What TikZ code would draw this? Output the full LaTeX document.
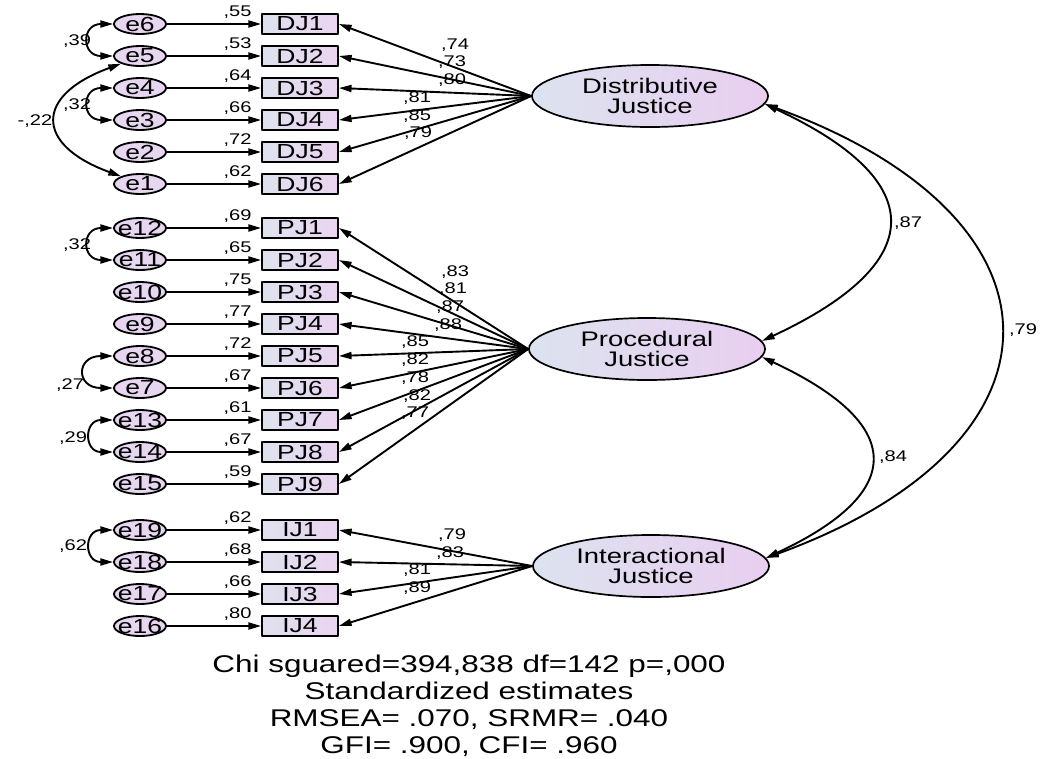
\documentclass[tikz,border=0pt]{standalone}
\usepackage{fontspec}
\setmainfont{Liberation Sans}[FakeStretch=1.3]
\usepackage{tikz}
\usetikzlibrary{arrows.meta,shapes.geometric}

\definecolor{errfill}{RGB}{231,214,240}
\definecolor{latleft}{RGB}{220,227,239}
\definecolor{latright}{RGB}{233,206,240}
\definecolor{boxleft}{RGB}{222,226,238}
\definecolor{boxright}{RGB}{234,212,240}

\begin{document}
\begin{tikzpicture}[line cap=round,line join=round,>={Triangle[length=9pt,width=5pt]},x=0.025cm,y=0.025cm,
	err/.style={ellipse,draw,line width=1.3pt,fill=errfill,minimum width=1.3cm,minimum height=0.5cm,inner xsep=-3pt,inner ysep=-1pt,font=\fontsize{14.5}{15}\selectfont},
	ind/.style={rectangle,draw,line width=1.3pt,left color=boxleft,right color=boxright,minimum width=1.9cm,minimum height=0.5cm,inner sep=0pt,font=\fontsize{14.5}{15}\selectfont},
	lat/.style={ellipse,draw,line width=1.2pt,left color=latleft,right color=latright,minimum width=5.9cm,minimum height=1.55cm,inner sep=0pt,align=center,font=\fontsize{15}{14.5}\selectfont},
	coef/.style={inner sep=0pt,font=\fontsize{11}{11}\selectfont},
	load/.style={->,line width=1.35pt},
	cov/.style={<->,line width=1.35pt}]
		\useasboundingbox (0,0) rectangle (1046,-758);
		% latent factors
		\node[lat] (DJ) at (650,-96) {Distributive\\Justice};
		\node[lat] (PJ) at (647,-349) {Procedural\\Justice};
		\node[lat] (IJ) at (651,-566) {Interactional\\Justice};
		% distributive justice items
		\foreach \i/\e/\y/\w/\l/\lx/\ly in {1/6/24/{,55}/{,74}/455/45, 2/5/56/{,53}/{,73}/452/62, 3/4/88/{,64}/{,80}/452/80, 4/3/120/{,66}/{,81}/417/98, 5/2/152/{,72}/{,85}/417/116, 6/1/184/{,62}/{,79}/418/133}{
			\node[err] (e\e) at (140,-\y) {e\e};
			\node[ind] (DJ\i) at (300,-\y) {DJ\i};
			\draw[load] (e\e) -- node[coef,pos=0.75,above=3.5pt] (w\e) {\w} (DJ\i);
			\draw[load] (DJ.west) -- (DJ\i.east);
			\node[coef] (DJl\i) at (\lx,-\ly) {\l};
		}
		% procedural justice items
		\foreach \i/\e/\y/\w/\l/\lx/\ly in {1/12/228/{,69}/{,83}/455/272, 2/11/260/{,65}/{,81}/453/289, 3/10/292/{,75}/{,87}/450/307, 4/9/324/{,77}/{,88}/448/325, 5/8/356/{,72}/{,85}/415/342, 6/7/388/{,67}/{,82}/415/360, 7/13/420/{,61}/{,78}/415/378, 8/14/452/{,67}/{,82}/417/396, 9/15/484/{,59}/{,77}/415/413}{
			\node[err] (e\e) at (140,-\y) {e\e};
			\node[ind] (PJ\i) at (300,-\y) {PJ\i};
			\draw[load] (e\e) -- node[coef,pos=0.75,above=3.5pt] (w\e) {\w} (PJ\i);
			\draw[load] (PJ.west) -- (PJ\i.east);
			\node[coef] (PJl\i) at (\lx,-\ly) {\l};
		}
		% interactional justice items
		\foreach \i/\e/\y/\w/\l/\lx/\ly in {1/19/530/{,62}/{,79}/452/535, 2/18/562/{,68}/{,83}/450/553, 3/17/594/{,66}/{,81}/417/570, 4/16/626/{,80}/{,89}/417/588}{
			\node[err] (e\e) at (140,-\y) {e\e};
			\node[ind] (IJ\i) at (300,-\y) {IJ\i};
			\draw[load] (e\e) -- node[coef,pos=0.75,above=3.5pt] (w\e) {\w} (IJ\i);
			\draw[load] (IJ.west) -- (IJ\i.east);
			\node[coef] (IJl\i) at (\lx,-\ly) {\l};
		}
		% error covariances
		\draw[cov] (e6.west) to[out=180,in=180,looseness=2.55] (e5.west);
		\draw[cov] (e4.west) to[out=180,in=180,looseness=2.55] (e3.west);
		\draw[cov] (e5.south west) to[out=200,in=160,looseness=2.1] (e1.north west);
		\draw[cov] (e12.west) to[out=180,in=180,looseness=2.55] (e11.west);
		\draw[cov] (e8.west) to[out=180,in=180,looseness=3] (e7.west);
		\draw[cov] (e13.west) to[out=180,in=180,looseness=2.35] (e14.west);
		\draw[cov] (e19.west) to[out=180,in=180,looseness=2.35] (e18.west);
		\node[coef] (c65) at (77,-41) {,39};
		\node[coef] (c43) at (77,-105) {,32};
		\node[coef] (c51) at (35,-121) {-,22};
		\node[coef] (c1211) at (77,-245) {,32};
		\node[coef] (c87) at (70,-385) {,27};
		\node[coef] (c1314) at (73,-438) {,29};
		\node[coef] (c1918) at (73,-546) {,62};
		% factor covariances
		\draw[cov] (DJ.-4) to[out=-25,in=25,looseness=1.98] (PJ.4);
		\draw[cov] (DJ.-4) to[out=-20,in=20,looseness=1.875] (IJ.4);
		\draw[cov] (PJ.-4) to[out=-25,in=25,looseness=2] (IJ.4);
		\node[coef] (cDP) at (908,-223) {,87};
		\node[coef] (cDI) at (1023,-330) {,79};
		\node[coef] (cPI) at (893,-457) {,84};
		% fit indices
		\node[font=\fontsize{17.2}{19.2}\selectfont,align=center] (fit) at (469,-706) {Chi sguared=394,838 df=142 p=,000\\Standardized estimates\\RMSEA= .070, SRMR= .040\\GFI= .900, CFI= .960};
\end{tikzpicture}
\end{document}
